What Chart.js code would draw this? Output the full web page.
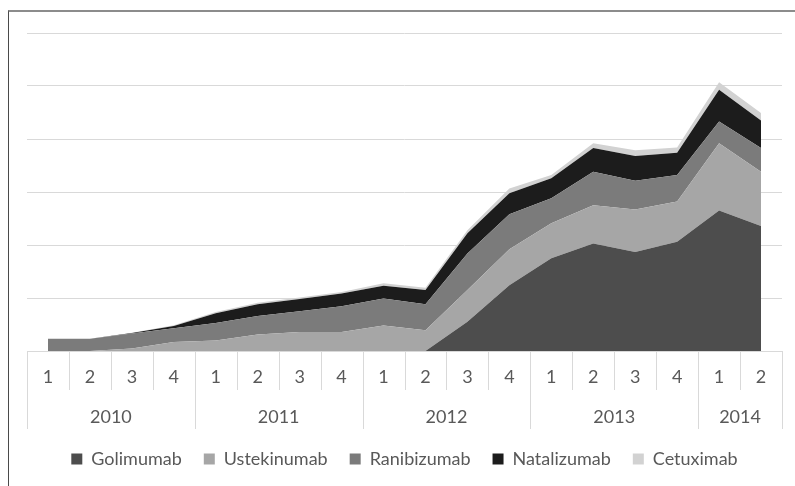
<!DOCTYPE html>
<html>
<head>
<meta charset="utf-8">
<script src="https://cdn.jsdelivr.net/npm/chart.js@4"></script>
<style>
    body { margin: 0; background: #fff; overflow: hidden; }
    #frame {
        position: absolute; left: 8px; top: 10px; width: 900px; height: 600px;
        border-left: 1px solid #4a4a4a; border-top: 2px solid #8c8c8c;
    }
    #chart { position: absolute; left: 0; top: 0; }
</style>
</head>
<body>
<div id="frame"></div>
<canvas id="chart" width="795" height="486"></canvas>
<script>
const quarterLabels = ['1', '2', '3', '4', '1', '2', '3', '4', '1', '2', '3', '4', '1', '2', '3', '4', '1', '2'];
const yearLabels = ['2010', '2011', '2012', '2013', '2014'];
const yearSpans = [4, 4, 4, 4, 2];

const golimumab   = [0, 0, 0, 0, 0, 0, 0, 0, 0, 0, 5.5, 12.4, 17.5, 20.3, 18.7, 20.6, 26.5, 23.6];
const ustekinumab = [0, 0, 0.45, 1.7, 2.0, 3.1, 3.6, 3.6, 4.8, 3.9, 6.0, 6.8, 6.6, 7.2, 8.0, 7.6, 12.7, 10.2];
const ranibizumab = [2.3, 2.3, 2.85, 2.6, 3.3, 3.5, 3.9, 4.85, 5.1, 4.9, 6.9, 6.6, 4.7, 6.3, 5.4, 5.0, 4.1, 4.5];
const natalizumab = [0, 0, 0.1, 0.4, 1.8, 2.2, 2.3, 2.4, 2.4, 2.7, 3.8, 3.95, 3.8, 4.5, 4.7, 4.2, 6.0, 5.2];
const cetuximab   = [0, 0, 0.05, 0.15, 0.25, 0.3, 0.3, 0.3, 0.5, 0.45, 0.6, 0.9, 0.6, 0.9, 1.1, 1.0, 1.4, 1.4];

const textColor = '#595959';
const lineColor = '#d9d9d9';
const fontFamily = 'Lato, "Open Sans", sans-serif';

function area(label, data, color, index) {
    return {
        label: label,
        data: data,
        backgroundColor: color,
        borderColor: color,
        borderWidth: 0,
        pointRadius: 0,
        pointHoverRadius: 0,
        tension: 0,
        fill: index === 0 ? 'origin' : '-1'
    };
}

// quarter separators, year separators and the year row under the x axis
const yearAxis = {
    id: 'yearAxis',
    afterDraw(chart) {
        const x = chart.scales.x;
        const ctx = chart.ctx;
        const w = (x.right - x.left) / quarterLabels.length;
        const top = x.top;

        const yearBounds = [0];
        yearSpans.forEach(s => yearBounds.push(yearBounds[yearBounds.length - 1] + s));

        ctx.save();
        ctx.strokeStyle = lineColor;
        ctx.lineWidth = 1;
        for (let k = 0; k <= quarterLabels.length; k++) {
            const px = Math.round(x.left + k * w) + 0.5;
            const len = yearBounds.includes(k) ? 78 : 39;
            ctx.beginPath();
            ctx.moveTo(px, top);
            ctx.lineTo(px, top + len);
            ctx.stroke();
        }

        ctx.fillStyle = textColor;
        ctx.font = '18px ' + fontFamily;
        ctx.textAlign = 'center';
        ctx.textBaseline = 'middle';
        yearLabels.forEach((year, i) => {
            const cx = x.left + (yearBounds[i] + yearBounds[i + 1]) / 2 * w;
            ctx.fillText(year, cx, top + 66);
        });
        ctx.restore();
    }
};

function renderChart() {
    const ctx = document.getElementById('chart').getContext('2d');
    new Chart(ctx, {
        type: 'line',
        data: {
            labels: quarterLabels,
            datasets: [
                area('Golimumab', golimumab, '#4d4d4d', 0),
                area('Ustekinumab', ustekinumab, '#a6a6a6', 1),
                area('Ranibizumab', ranibizumab, '#7b7b7b', 2),
                area('Natalizumab', natalizumab, '#1c1c1c', 3),
                area('Cetuximab', cetuximab, '#d2d2d2', 4)
            ]
        },
        options: {
            responsive: false,
            animation: false,
            layout: { padding: { left: 27, right: 13, top: 33, bottom: 8 } },
            plugins: {
                tooltip: { enabled: false },
                legend: {
                    position: 'bottom',
                    labels: {
                        boxWidth: 11,
                        boxHeight: 11,
                        padding: 22,
                        color: textColor,
                        font: { family: fontFamily, size: 18 }
                    }
                }
            },
            scales: {
                x: {
                    offset: true,
                    grid: { display: true, drawOnChartArea: false, drawTicks: false, offset: true },
                    border: { display: true, color: lineColor },
                    ticks: {
                        color: textColor,
                        font: { family: fontFamily, size: 18 },
                        padding: 15,
                        maxRotation: 0,
                        autoSkip: false
                    },
                    afterFit(scale) { scale.height = 77; }
                },
                y: {
                    stacked: true,
                    min: 0,
                    max: 60,
                    ticks: { display: false, stepSize: 10 },
                    grid: { color: lineColor, drawTicks: false },
                    border: { display: false },
                    afterFit(scale) { scale.width = 0; }
                }
            }
        },
        plugins: [yearAxis]
    });
}

document.addEventListener('DOMContentLoaded', renderChart);
</script>
</body>
</html>
